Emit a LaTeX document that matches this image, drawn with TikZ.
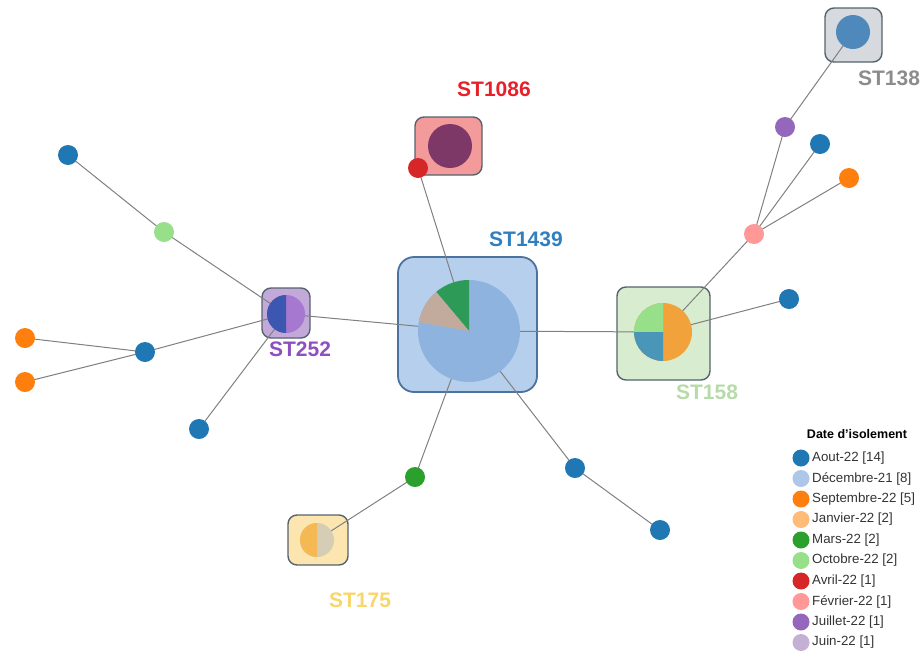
\documentclass[tikz,border=0pt]{standalone}
\usepackage{fontspec}
\setmainfont{Liberation Sans}
\pgfdeclarelayer{boxlayer}
\pgfdeclarelayer{linklayer}
\pgfsetlayers{boxlayer,linklayer,main}

% category palette
\definecolor{aout}{HTML}{1F77B4}
\definecolor{dec}{HTML}{AEC7E8}
\definecolor{sept}{HTML}{FF7F0E}
\definecolor{janv}{HTML}{FFBB78}
\definecolor{mars}{HTML}{2CA02C}
\definecolor{octo}{HTML}{98DF8A}
\definecolor{avril}{HTML}{D62728}
\definecolor{fevr}{HTML}{FF9896}
\definecolor{juil}{HTML}{9467BD}
\definecolor{juin}{HTML}{C5B0D5}
\definecolor{linkgray}{HTML}{808080}
\definecolor{boxedge}{HTML}{56636F}

% pie and box tints
\definecolor{pieDec}{HTML}{8FB3DF}
\definecolor{pieMars}{HTML}{2E9A58}
\definecolor{pieTan}{HTML}{C2AA9C}
\definecolor{pieOrange}{HTML}{F2A23A}
\definecolor{pieTeal}{HTML}{4A96B8}
\definecolor{pieViolet}{HTML}{A678D0}
\definecolor{pieNavy}{HTML}{3C57B0}
\definecolor{pieSand}{HTML}{D6CDB6}
\definecolor{pieGold}{HTML}{F4B952}
\definecolor{piePlum}{HTML}{7E3868}
\definecolor{pieSteel}{HTML}{4F88BA}
\definecolor{edge1439}{HTML}{4C72A0}
\definecolor{fill1439}{HTML}{B6CFEC}
\definecolor{fill1086}{HTML}{F39A9A}
\definecolor{fill138}{HTML}{D6D9DE}
\definecolor{fill158}{HTML}{D8ECD0}
\definecolor{fill252}{HTML}{C2A9DA}
\definecolor{fill175}{HTML}{FCE5AE}
\definecolor{txt1439}{HTML}{2F7FC1}
\definecolor{txt1086}{HTML}{E8202A}
\definecolor{txt138}{HTML}{8C8C8C}
\definecolor{txt158}{HTML}{B7DBA8}
\definecolor{txt252}{HTML}{8E4FBF}
\definecolor{txt175}{HTML}{F8D66A}

% slice of a pie centred on a named node
\newcommand\pieslice[5]{\fill[#5] (#1.center) -- ++(#2:#4) arc[start angle=#2, end angle=#3, radius=#4] -- cycle;}

\begin{document}
\begin{tikzpicture}[x=1pt,y=1pt,
  link/.style={draw=linkgray, line width=1pt},
  dot/.style={circle, inner sep=0pt, minimum size=20pt, fill=#1},
  pienode/.style={circle, inner sep=0pt, minimum size=#1},
  clusterbox/.style={draw=boxedge, line width=1.4pt, rounded corners=9pt, inner sep=0pt},
  clabel/.style={font=\bfseries\fontsize{21}{24}\selectfont, inner sep=0pt},
  legdot/.style={circle, inner sep=0pt, minimum size=17pt, fill=#1},
  legtxt/.style={font=\fontsize{13.3}{15}\selectfont, text=black!80, anchor=west, inner sep=0pt}]

\useasboundingbox (0,0) rectangle (924,-670);

% ---- pies of the clusters ----
\node[pienode=102pt, fill=pieDec] (pie1439) at (469,-331) {};
\pieslice{pie1439}{90}{130}{51pt}{pieMars}
\pieslice{pie1439}{130}{170}{51pt}{pieTan}

\node[pienode=58pt, fill=pieOrange] (pie158) at (663,-332) {};
\pieslice{pie158}{90}{180}{29pt}{octo}
\pieslice{pie158}{180}{270}{29pt}{pieTeal}

\node[pienode=38pt, fill=pieViolet] (pie252) at (286,-314) {};
\pieslice{pie252}{90}{270}{19pt}{pieNavy}

\node[pienode=34pt, fill=pieSand] (pie175) at (317,-540) {};
\pieslice{pie175}{90}{270}{17pt}{pieGold}

\node[pienode=44pt, fill=piePlum] (pie1086) at (450,-146) {};
\node[pienode=34pt, fill=pieSteel] (pie138) at (853,-32) {};

% ---- single isolates ----
\node[dot=aout] (a1) at (68,-155) {};
\node[dot=octo] (o1) at (164,-232) {};
\node[dot=aout] (a2) at (145,-352) {};
\node[dot=sept] (s1) at (25,-338) {};
\node[dot=sept] (s2) at (25,-382) {};
\node[dot=aout] (a3) at (199,-429) {};
\node[dot=mars] (m1) at (415,-477) {};
\node[dot=aout] (a4) at (575,-468) {};
\node[dot=aout] (a5) at (660,-530) {};
\node[dot=aout] (a6) at (789,-299) {};
\node[dot=fevr] (f1) at (754,-234) {};
\node[dot=juil] (j1) at (785,-127) {};
\node[dot=aout] (a7) at (820,-144) {};
\node[dot=sept] (s3) at (849,-178) {};
\node[dot=avril] (r1) at (418,-168) {};

% ---- cluster boxes ----
\begin{pgfonlayer}{boxlayer}
  \node[clusterbox, draw=edge1439, line width=1.8pt, rounded corners=16pt,
        fill=fill1439, minimum width=139pt, minimum height=135pt] (box1439) at (467.5,-324.5) {};
  \node[clusterbox, fill=fill1086, minimum width=67pt, minimum height=58pt] (box1086) at (448.5,-146) {};
  \node[clusterbox, fill=fill138, minimum width=57pt, minimum height=54pt] (box138) at (853.5,-35) {};
  \node[clusterbox, fill=fill158, minimum width=93pt, minimum height=93pt] (box158) at (663.5,-333.5) {};
  \node[clusterbox, fill=fill252, minimum width=48pt, minimum height=50pt] (box252) at (286,-313) {};
  \node[clusterbox, fill=fill175, minimum width=60pt, minimum height=50pt] (box175) at (318,-540) {};
\end{pgfonlayer}

% ---- links ----
\begin{pgfonlayer}{linklayer}
  \draw[link] (a1.center) -- (o1.center) -- (pie252.center);
  \draw[link] (s1.center) -- (a2.center);
  \draw[link] (s2.center) -- (a2.center);
  \draw[link] (a2.center) -- (pie252.center);
  \draw[link] (a3.center) -- (pie252.center);
  \draw[link] (pie252.center) -- (pie1439.center);
  \draw[link] (r1.center) -- (pie1439.center);
  \draw[link] (pie1439.center) -- (m1.center) -- (pie175.center);
  \draw[link] (pie1439.center) -- (a4.center) -- (a5.center);
  \draw[link] (pie1439.center) -- (pie158.center);
  \draw[link] (pie158.center) -- (a6.center);
  \draw[link] (pie158.center) -- (f1.center);
  \draw[link] (f1.center) -- (j1.center) -- (pie138.center);
  \draw[link] (f1.center) -- (a7.center);
  \draw[link] (f1.center) -- (s3.center);
\end{pgfonlayer}

% ---- cluster labels ----
\node[clabel, text=txt1439] (l1439) at (526,-239) {ST1439};
\node[clabel, text=txt1086] (l1086) at (494,-89) {ST1086};
\node[clabel, text=txt138] (l138) at (889,-78) {ST138};
\node[clabel, text=txt158] (l158) at (707,-392) {ST158};
\node[clabel, text=txt252] (l252) at (300,-349) {ST252};
\node[clabel, text=txt175] (l175) at (360,-600) {ST175};

% ---- legend ----
\node[font=\bfseries\fontsize{12.5}{14}\selectfont, inner sep=0pt] (legtitle) at (857,-434) {Date d'isolement};
\foreach \c/\t [count=\i from 0] in {aout/Aout-22 [14], dec/Décembre-21 [8], sept/Septembre-22 [5],
    janv/Janvier-22 [2], mars/Mars-22 [2], octo/Octobre-22 [2], avril/Avril-22 [1],
    fevr/Février-22 [1], juil/Juillet-22 [1], juin/Juin-22 [1]}{
  \node[legdot=\c] (ld\i) at (801,-458-20.5*\i) {};
  \node[legtxt] (lt\i) at (812,-458-20.5*\i) {\t};
}
\end{tikzpicture}
\end{document}
